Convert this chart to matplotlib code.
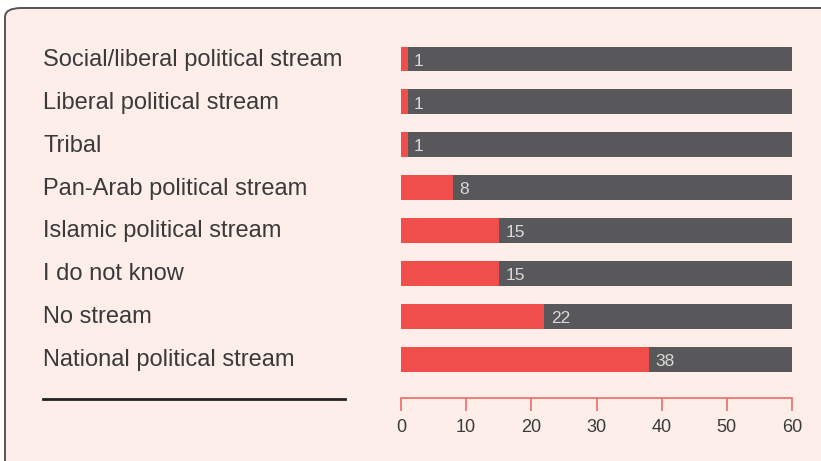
import matplotlib.pyplot as plt
import matplotlib.transforms as mtransforms
from matplotlib.patches import FancyBboxPatch
from matplotlib.lines import Line2D

# data
categories = [
    "Social/liberal political stream",
    "Liberal political stream",
    "Tribal",
    "Pan-Arab political stream",
    "Islamic political stream",
    "I do not know",
    "No stream",
    "National political stream",
]
values = [1, 1, 1, 8, 15, 15, 22, 38]
total = 60
xticks = [0, 10, 20, 30, 40, 50, 60]

bg = "#FDEEEA"
red = "#EF4E4A"
grey = "#58585A"

W, H = 821, 461
fig = plt.figure(figsize=(W / 100, H / 100), dpi=100)
fig.patch.set_facecolor("white")

# rounded panel frame
frame = FancyBboxPatch((5 / W, -0.2), 1.2, 1.2 - 8 / H,
                       boxstyle="round,pad=0,rounding_size=0.02",
                       transform=fig.transFigure, facecolor=bg,
                       edgecolor="#555555", linewidth=1.4, zorder=-10)
fig.patches.append(frame)

# axes placement (pixel based)
x0, x1 = 401, 792
top_px, bot_px = 37.5, 398
ax = fig.add_axes([x0 / W, 1 - bot_px / H, (x1 - x0) / W, (bot_px - top_px) / H])
ax.set_facecolor("none")
ax.set_zorder(5)

ypos = list(range(len(categories)))
bh = 0.58
ax.barh(ypos, [total] * len(values), height=bh, color=grey, zorder=2)
ax.barh(ypos, values, height=bh, color=red, zorder=3)

for y, v in zip(ypos, values):
    ax.text(v + 1.0, y + 0.05, str(v), ha="left", va="center",
            fontsize=12.5, color="#D9D9D9", family="Liberation Sans", zorder=4)

ax.set_xlim(0, total)
ax.set_ylim(7.90, -0.5)
ax.set_yticks([])
ax.set_xticks(xticks)
ax.set_xticklabels([str(t) for t in xticks], fontsize=13, color="#3a3a3a",
                   family="Liberation Sans")
for s in ["top", "left", "right"]:
    ax.spines[s].set_visible(False)
ax.spines["bottom"].set_color("#EC6A6A")
ax.spines["bottom"].set_linewidth(1.2)
ax.tick_params(axis="x", direction="out", length=9.4, width=1.2,
               color="#EC6A6A", pad=6)

# category labels on the left
trans = mtransforms.blended_transform_factory(fig.transFigure, ax.transData)
for y, c in zip(ypos, categories):
    fig.text(43 / W, y + 0.02, c, transform=trans, ha="left", va="center",
             fontsize=17, color="#3a3a3a", family="Liberation Sans")

# black rule under labels
fig.add_artist(Line2D([43 / W, 345 / W], [1 - 399 / H, 1 - 399 / H],
                      transform=fig.transFigure, color="#222222", linewidth=2))

plt.savefig("out.png", dpi=100, facecolor=fig.get_facecolor())
